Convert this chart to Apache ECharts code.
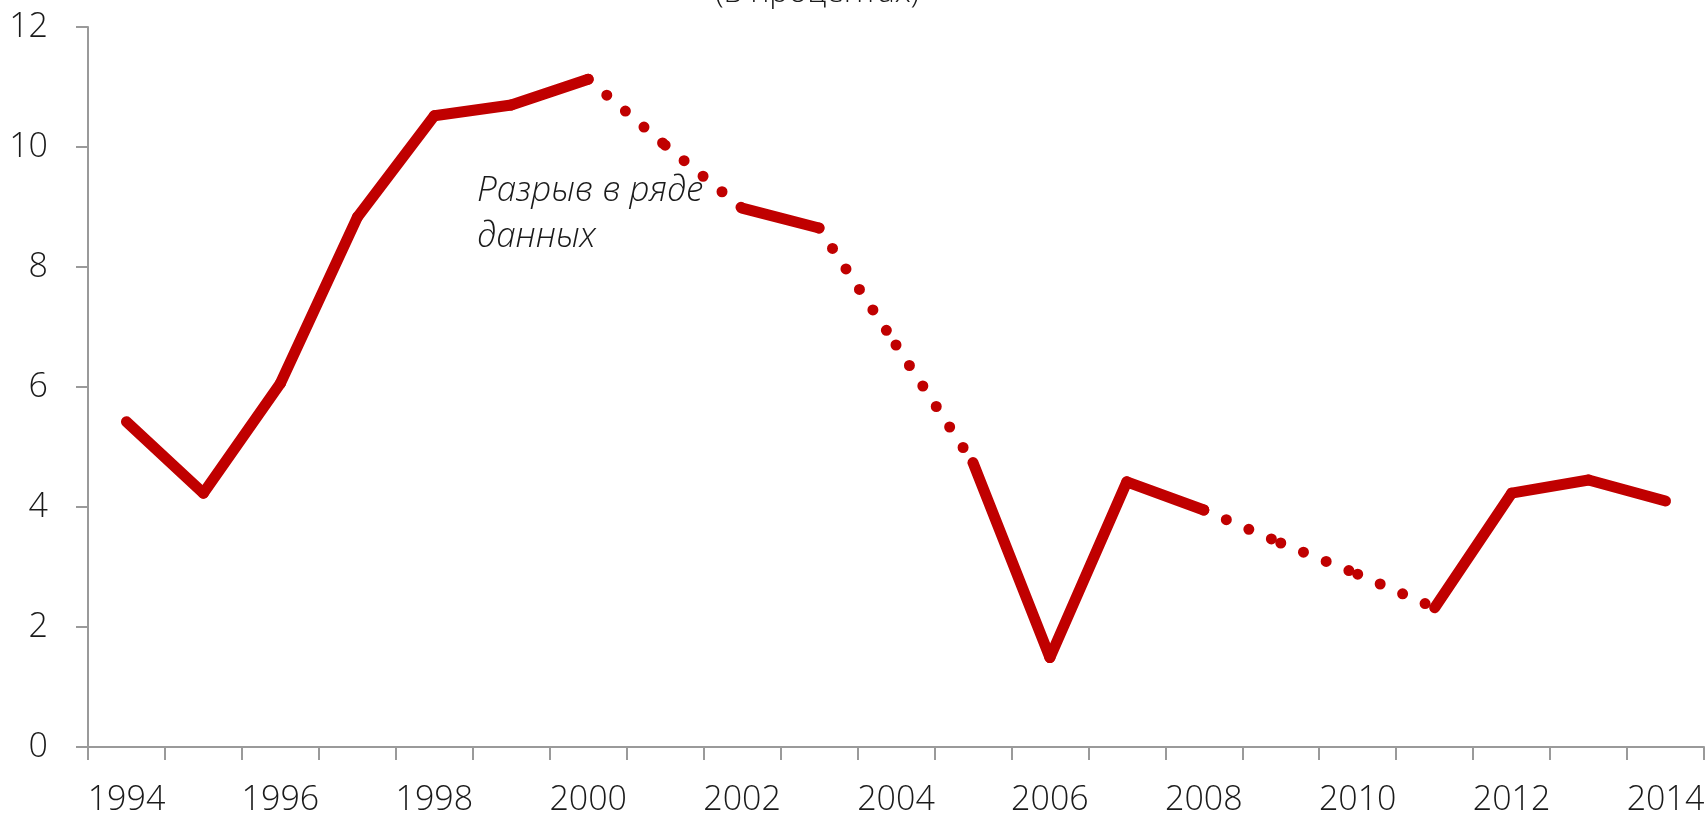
<!DOCTYPE html>
<html>
<head>
<meta charset="utf-8">
<script src="https://cdn.jsdelivr.net/npm/echarts@6/dist/echarts.min.js"></script>
<style>
html,body{margin:0;padding:0;background:#fff;}
#chart{width:1707px;height:819px;}
</style>
</head>
<body>
<div id="chart"></div>
<script>
const years = ['1994','1995','1996','1997','1998','1999','2000','2001','2002','2003','2004','2005','2006','2007','2008','2009','2010','2011','2012','2013','2014'];
const values = [5.42,4.23,6.06,8.83,10.52,10.70,11.13,10.03,8.98,8.65,6.70,4.74,1.49,4.42,3.95,3.40,2.88,2.32,4.23,4.45,4.10];
// segments starting at these years are drawn dotted (break in the data series)
const dottedStarts = ['2000','2001','2003','2004','2008','2009','2010'];
const yMin = 0, yMax = 12, yStep = 2;
const titleText = '(в процентах)';
const noteText = 'Разрыв в ряде\nданных';

const RED = '#C00000';
const FONT = '"Open Sans", "Noto Sans", sans-serif';

const series = [];
for (let i = 0; i < years.length - 1; i++) {
  const data = years.map(() => null);
  data[i] = values[i];
  data[i + 1] = values[i + 1];
  const dotted = dottedStarts.includes(years[i]);
  series.push({
    type: 'line',
    data: data,
    connectNulls: false,
    symbol: 'none',
    showSymbol: false,
    silent: true,
    z: dotted ? 2 : 3,
    lineStyle: {
      color: RED,
      width: 11,
      cap: 'round',
      join: 'round',
      type: dotted ? [0, 24.5] : 'solid'
    },
    emphasis: { disabled: true }
  });
}

const chart = echarts.init(document.getElementById('chart'), null, { renderer: 'canvas' });
chart.setOption({
  animation: false,
  backgroundColor: '#fff',
  grid: { left: 88, right: 3, top: 27, bottom: 72, containLabel: false, outerBoundsMode: 'none' },
  xAxis: {
    type: 'category',
    data: years,
    boundaryGap: true,
    axisLine: { show: true, lineStyle: { color: '#9a9a9a', width: 2 } },
    axisTick: { show: true, interval: 0, length: 13, alignWithLabel: false, lineStyle: { color: '#9a9a9a', width: 2 } },
    axisLabel: { interval: 1, margin: 36, fontSize: 34, fontFamily: FONT, fontWeight: 300, color: '#1a1a1a' },
    splitLine: { show: false }
  },
  yAxis: {
    type: 'value',
    min: yMin, max: yMax, interval: yStep,
    axisLine: { show: true, lineStyle: { color: '#9a9a9a', width: 2 } },
    axisTick: { show: true, length: 12, lineStyle: { color: '#9a9a9a', width: 2 } },
    axisLabel: { margin: 40, fontSize: 34, fontFamily: FONT, fontWeight: 300, color: '#1a1a1a' },
    splitLine: { show: false }
  },
  graphic: [
    {
      type: 'text', left: 715, top: -23, silent: true,
      style: { text: titleText, fontSize: 32, fontFamily: FONT, fontWeight: 300, fill: '#1a1a1a' }
    },
    {
      type: 'text', left: 477, top: 168, silent: true,
      style: { text: noteText, fontSize: 35, lineHeight: 46, fontFamily: FONT, fontStyle: 'italic', fontWeight: 300, fill: '#1a1a1a' }
    }
  ],
  series: series
});
</script>
</body>
</html>
